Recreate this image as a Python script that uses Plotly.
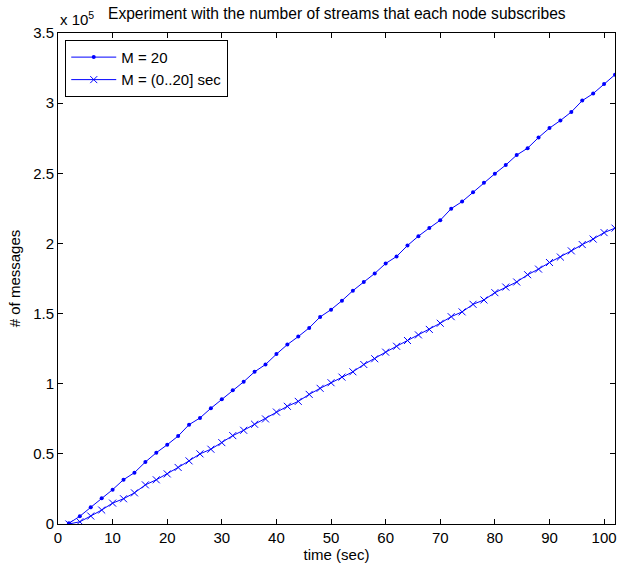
import plotly.graph_objects as go

time_sec = [2, 4, 6, 8, 10, 12, 14, 16, 18, 20, 22, 24, 26, 28, 30, 32, 34, 36, 38, 40,
            42, 44, 46, 48, 50, 52, 54, 56, 58, 60, 62, 64, 66, 68, 70, 72, 74, 76, 78, 80,
            82, 84, 86, 88, 90, 92, 94, 96, 98, 100, 102]

msgs_m20 = [500, 5500, 11900, 18300, 24500, 31600, 36600, 44200, 50800, 56500,
            62700, 70800, 75600, 82500, 88900, 95300, 101400, 108500, 113700, 121100,
            127900, 133600, 139800, 147600, 152800, 159200, 166300, 172500, 178600, 185700,
            190700, 198500, 205200, 211000, 216500, 224800, 229800, 236400, 243300, 249700,
            255900, 263000, 267900, 275500, 282200, 287600, 293700, 301800, 306800, 313700,
            320300]

msgs_m0_20 = [0, 1600, 5700, 9950, 14900, 18000, 22200, 27900, 31500, 35700,
              40300, 45000, 50000, 53300, 58000, 63000, 66800, 71100, 74900, 79800,
              83900, 87400, 92400, 96700, 100700, 104700, 108500, 113700, 117800, 122500,
              126700, 130800, 134800, 138700, 143100, 147800, 151200, 156600, 159700, 164900,
              168900, 172500, 177700, 181700, 186400, 190300, 194700, 199200, 203100, 207700,
              210900]

x_ticks = [0, 10, 20, 30, 40, 50, 60, 70, 80, 90, 100]
y_tickvals = [0, 50000, 100000, 150000, 200000, 250000, 300000, 350000]
y_ticktext = ["0", "0.5", "1", "1.5", "2", "2.5", "3", "3.5"]

FONT = "Liberation Sans, Arial, Helvetica, sans-serif"
FS = 15
BLUE = "#0000FF"

fig = go.Figure()
fig.add_trace(go.Scatter(
    x=time_sec, y=msgs_m20, mode="lines+markers", name="M = 20",
    line=dict(color=BLUE, width=1),
    marker=dict(symbol="circle", size=4, color=BLUE, line=dict(width=0)),
))
fig.add_trace(go.Scatter(
    x=time_sec, y=msgs_m0_20, mode="lines+markers", name="M = (0..20] sec",
    line=dict(color=BLUE, width=1),
    marker=dict(symbol="x-thin", size=7, color=BLUE, line=dict(width=1, color=BLUE)),
))

axis_common = dict(
    showline=True, linecolor="black", linewidth=1, mirror="ticks",
    ticks="inside", ticklen=5, tickcolor="black", tickwidth=1,
    showgrid=False, zeroline=False,
    tickfont=dict(family=FONT, size=FS, color="black"),
)

fig.update_layout(
    width=619, height=565,
    margin=dict(l=58, r=2, t=33, b=41),
    paper_bgcolor="white", plot_bgcolor="white",
    font=dict(family=FONT, size=FS, color="black"),
    showlegend=True,
    legend=dict(
        x=0.013, y=0.986, xanchor="left", yanchor="top",
        bordercolor="black", borderwidth=1, bgcolor="white",
        font=dict(family=FONT, size=FS, color="black"),
        tracegroupgap=0, itemwidth=45,
    ),
    xaxis=dict(
        range=[0, 102], tickvals=x_ticks,
        title=dict(text="time (sec)", standoff=0,
                   font=dict(family=FONT, size=FS, color="black")),
        **axis_common,
    ),
    yaxis=dict(
        range=[0, 350000], tickvals=y_tickvals, ticktext=y_ticktext,
        title=dict(text="# of messages", standoff=8,
                   font=dict(family=FONT, size=FS, color="black")),
        **axis_common,
    ),
    annotations=[
        dict(text="Experiment with the number of streams that each node subscribes",
             x=0.5, xref="paper", y=1.0, yref="paper", yshift=9,
             xanchor="center", yanchor="bottom", showarrow=False,
             font=dict(family=FONT, size=15.6, color="black")),
        dict(text="x 10<sup>5</sup>",
             x=0.0, xref="paper", y=1.0, yref="paper", yshift=3,
             xanchor="left", yanchor="bottom", showarrow=False,
             font=dict(family=FONT, size=FS, color="black")),
    ],
)

fig.write_html("out.html")
